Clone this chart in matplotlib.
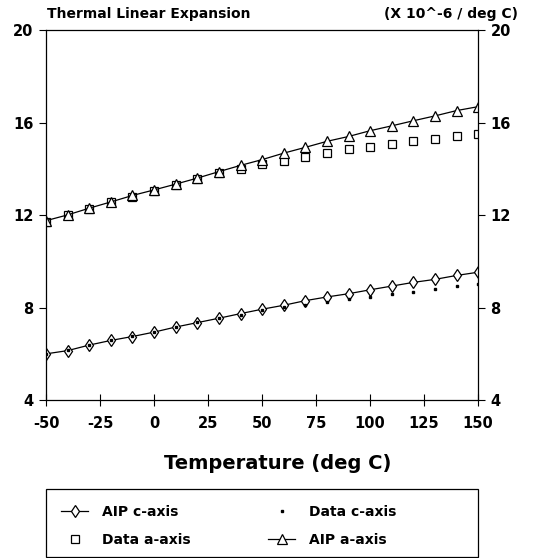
import numpy as np
import matplotlib
matplotlib.use('Agg')
import matplotlib.pyplot as plt
from matplotlib.patches import Rectangle

plt.rcParams['font.family'] = ['DejaVu Sans']
plt.rcParams['font.weight'] = 'bold'
plt.rcParams['axes.unicode_minus'] = False

# Temperatura (deg C)
temperatura = [-50, -40, -30, -20, -10, 0, 10, 20, 30, 40, 50,
               60, 70, 80, 90, 100, 110, 120, 130, 140, 150]

# Curvas AIP e dados medidos (X 10^-6 / deg C)
aip_c = [6.00, 6.14, 6.38, 6.58, 6.75, 6.94, 7.16, 7.35, 7.54, 7.74, 7.93,
         8.10, 8.30, 8.46, 8.60, 8.77, 8.93, 9.09, 9.22, 9.39, 9.53]
dados_c = [6.00, 6.17, 6.38, 6.58, 6.77, 6.96, 7.16, 7.38, 7.55, 7.70, 7.88,
           8.04, 8.12, 8.25, 8.38, 8.47, 8.57, 8.68, 8.80, 8.92, 9.00]
aip_a = [11.76, 12.01, 12.30, 12.57, 12.85, 13.09, 13.34, 13.60, 13.88, 14.15, 14.40,
         14.68, 14.93, 15.19, 15.40, 15.65, 15.86, 16.08, 16.29, 16.52, 16.69]
dados_a = [11.72, 12.00, 12.27, 12.55, 12.80, 13.05, 13.30, 13.55, 13.80, 14.00, 14.20,
           14.35, 14.53, 14.68, 14.85, 14.96, 15.07, 15.20, 15.30, 15.40, 15.52]

xticks = [-50, -25, 0, 25, 50, 75, 100, 125, 150]
yticks = [4, 8, 12, 16, 20]

fig = plt.figure(figsize=(5.36, 5.58), dpi=100)
ax = fig.add_axes([0.086, 0.283, 0.806, 0.663])

# AIP c-axis
l1, = ax.plot(temperatura, aip_c, color='black', lw=0.9, marker='d', ms=6.5,
              mfc='white', mec='black', mew=0.9, label='AIP c-axis')
# Dados c-axis
l3, = ax.plot(temperatura, dados_c, ls='none', marker='s', ms=2,
              color='black', label='Data c-axis')
# Dados a-axis
l2, = ax.plot(temperatura, dados_a, ls='none', marker='s', ms=5.5,
              mfc='white', mec='black', mew=0.9, label='Data a-axis')
# AIP a-axis
l4, = ax.plot(temperatura, aip_a, color='black', lw=0.9, marker='^', ms=6.5,
              mfc='white', mec='black', mew=0.9, label='AIP a-axis')

ax.set_xlim(-50, 150)
ax.set_ylim(4, 20)
ax.set_xticks(xticks)
ax.set_yticks(yticks)
ax.tick_params(axis='x', direction='inout', length=9, width=0.8, pad=7, labelsize=10.5)
ax.tick_params(axis='y', direction='out', length=5, width=0.8, pad=4, labelsize=10.5,
               right=True, labelright=True)
for s in ax.spines.values():
    s.set_linewidth(0.9)

ax.set_xlabel('Temperature (deg C)', fontsize=14, fontweight='bold')
ax.xaxis.set_label_coords((278 - 46) / 432, -0.145)

fig.text(47 / 536, 1 - 14 / 558, 'Thermal Linear Expansion', fontsize=10,
         fontweight='bold', ha='left', va='center')
fig.text(518 / 536, 1 - 14 / 558, '(X 10^-6 / deg C)', fontsize=10,
         fontweight='bold', ha='right', va='center')

# Caixa da legenda
fig.patches.append(Rectangle((46 / 536, 1 / 558), 432 / 536, 68 / 558,
                             transform=fig.transFigure, fill=False,
                             edgecolor='black', lw=0.9))

opts = dict(loc='upper left', frameon=False, borderpad=0, borderaxespad=0,
            prop={'size': 10, 'weight': 'bold'}, handlelength=1.95,
            handletextpad=1.0, labelspacing=1.0)
fig.legend(handles=[l1, l2], bbox_to_anchor=(61 / 536, 1 - 505 / 558), **opts)
fig.legend(handles=[l3, l4], bbox_to_anchor=(268 / 536, 1 - 505 / 558), **opts)

fig.savefig('out.png', dpi=100)
